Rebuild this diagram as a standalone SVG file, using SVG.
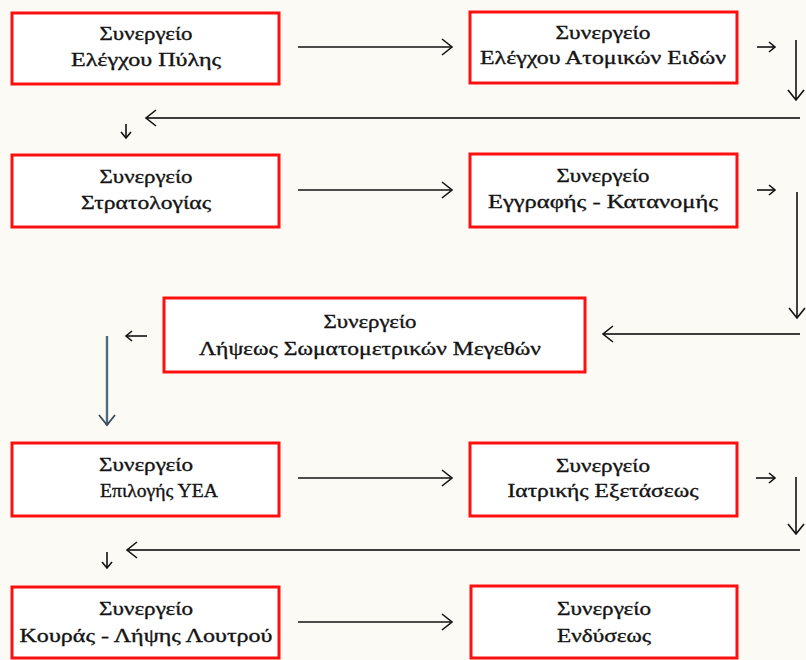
<svg xmlns="http://www.w3.org/2000/svg" width="806" height="660" viewBox="0 0 806 660">
<style>
.box{fill:#ffffff;stroke:#ff1010;stroke-width:3}
.t{font-family:"Liberation Serif","DejaVu Serif",serif;font-size:19px;fill:#141414;stroke:#141414;stroke-width:0.35;text-anchor:middle}
.c{fill:none;stroke:#111;stroke-width:1.6}
.g{fill:none;stroke:#3c3c3c;stroke-width:2.2}
.b{fill:none;stroke:#4d6a80;stroke-width:2.4}
</style>
<defs>
<marker id="ah" markerUnits="userSpaceOnUse" markerWidth="14" markerHeight="20" refX="12" refY="10" orient="auto">
<path d="M2,2 L12,10 L2,18" fill="none" stroke="#111" stroke-width="1.6"/>
</marker>
<marker id="as" markerUnits="userSpaceOnUse" markerWidth="10" markerHeight="14" refX="8" refY="7" orient="auto">
<path d="M2,2 L8,7 L2,12" fill="none" stroke="#111" stroke-width="1.6"/>
</marker>
<marker id="ab" markerUnits="userSpaceOnUse" markerWidth="14" markerHeight="20" refX="12" refY="10" orient="auto">
<path d="M2,2 L12,10 L2,18" fill="none" stroke="#3a4a58" stroke-width="1.8"/>
</marker>
</defs>
<rect width="806" height="660" fill="#fcfaf4"/>
<g id="connectors">
<line class="c" x1="298" y1="47" x2="452" y2="47" marker-end="url(#ah)"/>
<line class="c" x1="757" y1="47" x2="775" y2="47" marker-end="url(#as)"/>
<line class="c" x1="796" y1="40" x2="796" y2="100" marker-end="url(#ah)"/>
<line class="g" x1="800" y1="118" x2="146" y2="118" marker-end="url(#ah)"/>
<line class="c" x1="126" y1="124" x2="126" y2="138" marker-end="url(#as)"/>
<line class="c" x1="298" y1="190" x2="452" y2="190" marker-end="url(#ah)"/>
<line class="c" x1="757" y1="190" x2="775" y2="190" marker-end="url(#as)"/>
<line class="c" x1="797" y1="192" x2="797" y2="318" marker-end="url(#ah)"/>
<line class="g" x1="800" y1="334" x2="603" y2="334" marker-end="url(#ah)"/>
<line class="c" x1="147" y1="336" x2="126" y2="336" marker-end="url(#as)"/>
<line class="b" x1="107" y1="336" x2="107" y2="425" marker-end="url(#ab)"/>
<line class="c" x1="298" y1="478" x2="452" y2="478" marker-end="url(#ah)"/>
<line class="c" x1="756" y1="478" x2="775" y2="478" marker-end="url(#as)"/>
<line class="c" x1="796" y1="477" x2="796" y2="534" marker-end="url(#ah)"/>
<line class="g" x1="800" y1="550" x2="127" y2="550" marker-end="url(#ah)"/>
<line class="c" x1="107" y1="552" x2="107" y2="568" marker-end="url(#as)"/>
<line class="c" x1="298" y1="622" x2="452" y2="622" marker-end="url(#ah)"/>
</g>
<g id="n1">
<rect class="box" x="12" y="13" width="267" height="71"/>
<text class="t" x="146" y="40" textLength="93" lengthAdjust="spacingAndGlyphs">Συνεργείο</text>
<text class="t" x="146" y="66" textLength="150" lengthAdjust="spacingAndGlyphs">Ελέγχου Πύλης</text>
</g>
<g id="n2">
<rect class="box" x="470" y="12" width="267" height="71"/>
<text class="t" x="603" y="39" textLength="95" lengthAdjust="spacingAndGlyphs">Συνεργείο</text>
<text class="t" x="603" y="64" textLength="246" lengthAdjust="spacingAndGlyphs">Ελέγχου Ατομικών Ειδών</text>
</g>
<g id="n3">
<rect class="box" x="12" y="155" width="267" height="72"/>
<text class="t" x="146" y="183" textLength="93" lengthAdjust="spacingAndGlyphs">Συνεργείο</text>
<text class="t" x="146" y="209" textLength="130" lengthAdjust="spacingAndGlyphs">Στρατολογίας</text>
</g>
<g id="n4">
<rect class="box" x="470" y="154" width="267" height="73"/>
<text class="t" x="603" y="182" textLength="93" lengthAdjust="spacingAndGlyphs">Συνεργείο</text>
<text class="t" x="603" y="208" textLength="230" lengthAdjust="spacingAndGlyphs">Εγγραφής - Κατανομής</text>
</g>
<g id="n5">
<rect class="box" x="164" y="298" width="421" height="74"/>
<text class="t" x="370" y="328" textLength="93" lengthAdjust="spacingAndGlyphs">Συνεργείο</text>
<text class="t" x="370" y="355" textLength="342" lengthAdjust="spacingAndGlyphs">Λήψεως Σωματομετρικών Μεγεθών</text>
</g>
<g id="n6">
<rect class="box" x="12" y="443" width="267" height="73"/>
<text class="t" x="146" y="471" textLength="94" lengthAdjust="spacingAndGlyphs">Συνεργείο</text>
<text class="t" x="159" y="497" textLength="118" lengthAdjust="spacingAndGlyphs">Επιλογής ΥΕΑ</text>
</g>
<g id="n7">
<rect class="box" x="470" y="443" width="267" height="73"/>
<text class="t" x="603" y="472" textLength="94" lengthAdjust="spacingAndGlyphs">Συνεργείο</text>
<text class="t" x="603" y="497" textLength="191" lengthAdjust="spacingAndGlyphs">Ιατρικής Εξετάσεως</text>
</g>
<g id="n8">
<rect class="box" x="12" y="587" width="267" height="71"/>
<text class="t" x="146" y="615" textLength="94" lengthAdjust="spacingAndGlyphs">Συνεργείο</text>
<text class="t" x="146" y="642" textLength="253" lengthAdjust="spacingAndGlyphs">Κουράς - Λήψης Λουτρού</text>
</g>
<g id="n9">
<rect class="box" x="471" y="586" width="266" height="72"/>
<text class="t" x="604" y="615" textLength="94" lengthAdjust="spacingAndGlyphs">Συνεργείο</text>
<text class="t" x="604" y="642" textLength="94" lengthAdjust="spacingAndGlyphs">Ενδύσεως</text>
</g>
</svg>
